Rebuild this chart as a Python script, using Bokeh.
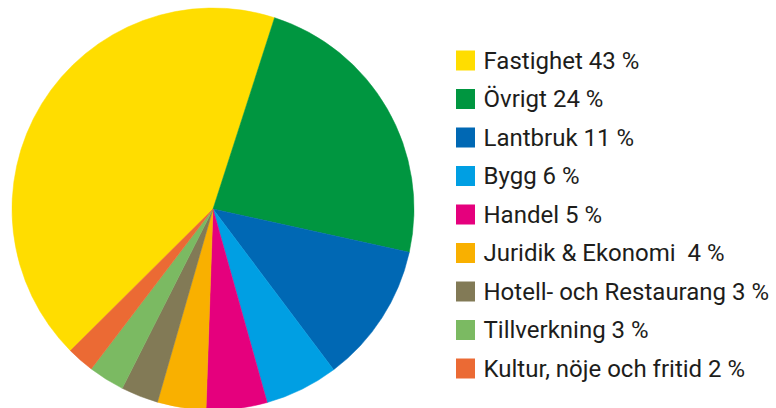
import numpy as np
from bokeh.plotting import figure
from bokeh.models import Range1d, ColumnDataSource
from bokeh.core.properties import value
from bokeh.embed import file_html
from bokeh.resources import INLINE

# Data
categories = ["Fastighet", "Övrigt", "Lantbruk", "Bygg", "Handel",
              "Juridik & Ekonomi\u00a0", "Hotell- och Restaurang", "Tillverkning",
              "Kultur, nöje och fritid"]
shares = [42.4, 23.5, 11.3, 5.9, 4.9, 3.9, 3.0, 2.9, 2.2]
label_pcts = [43, 24, 11, 6, 5, 4, 3, 3, 2]
colors = ["#FFDD00", "#009640", "#0068B4", "#009FE3", "#E5007D",
          "#F9B000", "#827A56", "#7BBA62", "#EB6A34"]

W, H = 776, 408
p = figure(width=W, height=H, output_backend="svg", toolbar_location=None,
           x_range=Range1d(0, W), y_range=Range1d(0, H),
           min_border=0, outline_line_color=None)
p.axis.visible = False
p.grid.visible = False
p.background_fill_color = "white"
p.border_fill_color = "white"

# Pie
cx, cy, r = 212.5, H - 208.5, 201
start_cw = -134.8  # degrees clockwise from 12 o'clock where first slice begins
tot = sum(shares)
cum = np.cumsum([0] + shares) / tot * 360.0 + start_cw
starts = np.radians(90 - cum[:-1])
ends = np.radians(90 - cum[1:])
src = ColumnDataSource(dict(start=starts, end=ends, color=colors))
p.wedge(x=cx, y=cy, radius=r, start_angle="start", end_angle="end",
        direction="clock", fill_color="color", line_color="color",
        line_width=0.5, source=src)

# Legend
n = len(categories)
row_y = [H - (60 + 38.5 * i) for i in range(n)]
labels = [f"{c} {v}\u00a0%" for c, v in zip(categories, label_pcts)]
lsrc = ColumnDataSource(dict(y=row_y, ty=row_y,
                             color=colors, label=labels))
p.rect(x=465, y="y", width=19, height=20, fill_color="color",
       line_color=None, source=lsrc)
p.text(x=483, y="ty", text="label", text_font=value("Roboto"),
       text_font_size="24px", text_color="#1d1d1b",
       text_baseline="middle", text_align="left", source=lsrc)

open("out.html", "w").write(file_html(p, INLINE))
